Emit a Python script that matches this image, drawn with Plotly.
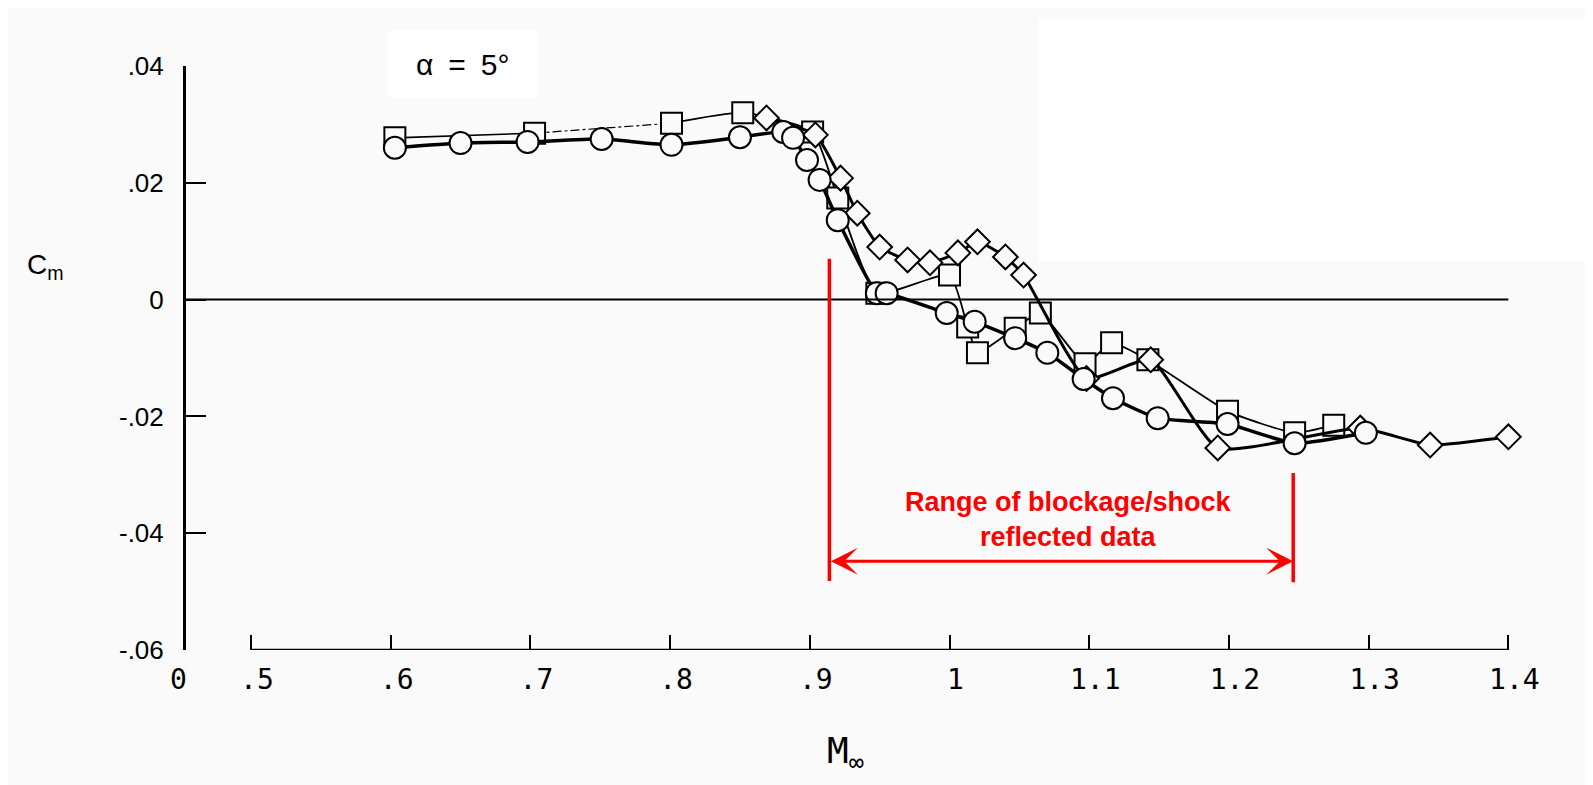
import plotly.graph_objects as go

# Cm vs Mach number, alpha = 5 deg (three test series)
mach_circle = [0.603, 0.650, 0.698, 0.751, 0.801, 0.850, 0.881, 0.888, 0.898, 0.907, 0.920,
               0.948, 0.955, 0.998, 1.018, 1.047, 1.070, 1.096, 1.117, 1.149, 1.199, 1.247, 1.298]
cm_circle = [0.0260, 0.0268, 0.0270, 0.0275, 0.0265, 0.0278, 0.0287, 0.0277, 0.0239, 0.0205, 0.0136,
             0.0011, 0.0011, -0.0023, -0.0038, -0.0066, -0.0091, -0.0136, -0.0169, -0.0203, -0.0213, -0.0246, -0.0228]

mach_square = [0.603, 0.703, 0.801, 0.852, 0.902, 0.920, 0.948, 1.000, 1.013, 1.020, 1.047, 1.065,
               1.097, 1.116, 1.142, 1.199, 1.247, 1.275]
cm_square = [0.0277, 0.0285, 0.0302, 0.0320, 0.0287, 0.0174, 0.0011, 0.0042, -0.0047, -0.0091, -0.0049, -0.0023,
             -0.0110, -0.0074, -0.0103, -0.0191, -0.0228, -0.0215]

mach_diamond = [0.869, 0.904, 0.922, 0.934, 0.950, 0.970, 0.986, 1.006, 1.020, 1.040, 1.053,
                1.098, 1.144, 1.192, 1.294, 1.344, 1.400]
cm_diamond = [0.0311, 0.0282, 0.0208, 0.0148, 0.0090, 0.0068, 0.0063, 0.0080, 0.0099, 0.0073, 0.0042,
              -0.0135, -0.0103, -0.0254, -0.0220, -0.0249, -0.0235]

x_ticks = [0.5, 0.6, 0.7, 0.8, 0.9, 1.0, 1.1, 1.2, 1.3, 1.4]
x_ticktext = [".5", ".6", ".7", ".8", ".9", "1", "1.1", "1.2", "1.3", "1.4"]
y_ticks = [-0.06, -0.04, -0.02, 0, 0.02, 0.04]
y_ticktext = ["-.06", "-.04", "-.02", "0", ".02", ".04"]

blockage_start = 0.914
blockage_end = 1.246

BG = "#fafafa"
X0 = 0.4535  # broken axis: the y axis sits at "0"
X1 = 1.4026  # a little room past 1.4 so the last marker is kept

fig = go.Figure()

# square series: the .7 -> .8 stretch is a faint dash-dot line in the original
fig.add_trace(go.Scatter(x=mach_square[:2], y=cm_square[:2], mode="lines",
                         line=dict(color="black", width=1.6)))
fig.add_trace(go.Scatter(x=mach_square[1:3], y=cm_square[1:3], mode="lines",
                         line=dict(color="black", width=1.2, dash="dashdot")))
fig.add_trace(go.Scatter(x=mach_square[2:], y=cm_square[2:], mode="lines",
                         line=dict(color="black", width=1.8, shape="spline", smoothing=0.5)))
fig.add_trace(go.Scatter(x=mach_square, y=cm_square, mode="markers",
                         marker=dict(symbol="square", size=21, color=BG,
                                     line=dict(color="black", width=2)),
                         cliponaxis=False))
fig.add_trace(go.Scatter(x=mach_diamond, y=cm_diamond, mode="lines+markers",
                         line=dict(color="black", width=3, shape="spline", smoothing=0.5),
                         marker=dict(symbol="diamond", size=19, color=BG,
                                     line=dict(color="black", width=2)),
                         cliponaxis=False))
fig.add_trace(go.Scatter(x=mach_circle, y=cm_circle, mode="lines+markers",
                         line=dict(color="black", width=3.5, shape="spline", smoothing=0.5),
                         marker=dict(symbol="circle", size=22, color=BG,
                                     line=dict(color="black", width=2)),
                         cliponaxis=False))

# axis line spans only .5 to 1.4, zero line from the y axis to 1.4
fig.add_shape(type="line", x0=0.5, x1=1.4, y0=-0.06, y1=-0.06,
              line=dict(color="black", width=2.5))
fig.add_shape(type="line", x0=X0, x1=1.4, y0=0, y1=0,
              line=dict(color="black", width=2))

# white patches of the scan
fig.add_shape(type="rect", xref="paper", yref="paper", x0=0.643, x1=1.08, y0=0.666, y1=1.08,
              fillcolor="white", line_width=0, layer="below")
fig.add_shape(type="rect", xref="paper", yref="paper", x0=0.1528, x1=0.2655, y0=0.9452, y1=1.0616,
              fillcolor="white", line_width=0, layer="below")

# red range markers
fig.add_shape(type="line", x0=blockage_start, x1=blockage_start, y0=0.007, y1=-0.0482,
              line=dict(color="red", width=3.5))
fig.add_shape(type="line", x0=blockage_end, x1=blockage_end, y0=-0.0297, y1=-0.0484,
              line=dict(color="red", width=3.5))
fig.add_annotation(x=blockage_end, y=-0.0448, ax=blockage_start, ay=-0.0448,
                   xref="x", yref="y", axref="x", ayref="y", text="",
                   showarrow=True, arrowside="end+start", arrowhead=3,
                   arrowsize=1.5, arrowwidth=3, arrowcolor="red")
fig.add_annotation(x=1.085, y=-0.0377, xref="x", yref="y", showarrow=False,
                   xanchor="center", yanchor="middle",
                   text="<b>Range of blockage/shock<br>reflected data</b>",
                   font=dict(family="Liberation Sans", size=27, color="red"))

fig.add_annotation(x=0.209, y=1.003, xref="paper", yref="paper", showarrow=False,
                   xanchor="center", yanchor="middle",
                   text="α\u2002=\u20025°",
                   font=dict(family="Liberation Sans", size=30, color="black"))
fig.add_annotation(x=-0.106, y=0.6575, xref="paper", yref="paper", showarrow=False,
                   xanchor="center", yanchor="middle",
                   text="C<sub>m</sub>",
                   font=dict(family="Liberation Sans", size=28, color="black"))
fig.add_annotation(x=0.497, y=-0.178, xref="paper", yref="paper", showarrow=False,
                   xanchor="center", yanchor="middle",
                   text="M<sub>∞</sub>",
                   font=dict(family="DejaVu Sans Mono", size=36, color="black"))
fig.add_annotation(x=-0.006, y=-0.05, xref="paper", yref="paper", showarrow=False,
                   xanchor="center", yanchor="middle",
                   text="0",
                   font=dict(family="DejaVu Sans Mono", size=28, color="black"))

fig.update_xaxes(range=[X0, X1], tickvals=x_ticks, ticktext=x_ticktext,
                 ticks="inside", ticklen=15, tickwidth=2, tickcolor="black",
                 showline=False, showgrid=False, zeroline=False,
                 ticklabelstandoff=10, ticklabelshift=6,
                 tickfont=dict(family="DejaVu Sans Mono", size=28, color="black"))
fig.update_yaxes(range=[-0.06, 0.04], tickvals=y_ticks, ticktext=y_ticktext,
                 ticks="inside", ticklen=20, tickwidth=2, tickcolor="black",
                 showline=True, linewidth=3, linecolor="black",
                 showgrid=False, zeroline=False,
                 ticklabelstandoff=14,
                 tickfont=dict(family="Liberation Sans", size=26, color="black"))

# page body adds an 8px offset, so margins are shifted to keep the plot area in place
fig.update_layout(width=1585, height=777, showlegend=False,
                  paper_bgcolor=BG, plot_bgcolor=BG,
                  margin=dict(l=178, r=81, t=58, b=135))

fig.write_html("out.html")
